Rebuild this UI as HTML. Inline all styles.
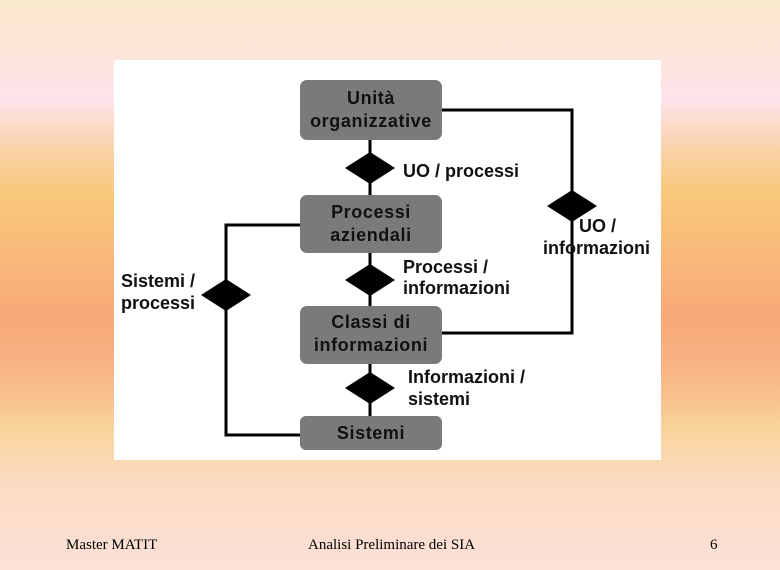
<!DOCTYPE html>
<html><head><meta charset="utf-8"><style>
body{margin:0;width:780px;height:570px;overflow:hidden;position:relative;
background:linear-gradient(to bottom,#fbe9cc 0px,#fce6dc 60px,#fde3ec 100px,#f9d2a6 150px,#f8c87a 195px,#f8b87a 260px,#f8a878 320px,#f8b888 380px,#f9d49c 430px,#fbdcc0 480px,#fde0d8 570px);
font-family:"Liberation Sans",sans-serif;}
.ft{position:absolute;top:537px;font-family:"Liberation Serif",serif;font-size:15px;color:#000}
</style></head><body>
<svg width="780" height="570" style="position:absolute;left:0;top:0" font-family="Liberation Sans, sans-serif" font-weight="bold" font-size="18">
<rect x="114" y="60" width="547" height="400" fill="#fff"/>
<g stroke="#000" stroke-width="3" fill="none">
<line x1="370" y1="140" x2="370" y2="416"/>
<polyline points="442,110 572,110 572,333 442,333"/>
<polyline points="300,225 226,225 226,435 300,435"/>
</g>
<g fill="#7a7a7a">
<rect x="300" y="80" width="142" height="60" rx="7"/>
<rect x="300" y="195" width="142" height="58" rx="7"/>
<rect x="300" y="306" width="142" height="58" rx="7"/>
<rect x="300" y="416" width="142" height="34" rx="6"/>
</g>
<g fill="#000">
<polygon points="345,168 370,152 395,168 370,184"/>
<polygon points="345,280 370,264 395,280 370,296"/>
<polygon points="345,388 370,372 395,388 370,404"/>
<polygon points="547,206 572,190 597,206 572,222"/>
<polygon points="201,295 226,279 251,295 226,311"/>
</g>
<g fill="#111" text-anchor="middle" letter-spacing="0.6">
<text x="371" y="104">Unità</text><text x="371" y="127">organizzative</text>
<text x="371" y="218">Processi</text><text x="371" y="241">aziendali</text>
<text x="371" y="328">Classi di</text><text x="371" y="351">informazioni</text>
<text x="371" y="439">Sistemi</text>
</g>
<g fill="#111">
<text x="403" y="177">UO / processi</text>
<text x="403" y="273">Processi /</text><text x="403" y="294">informazioni</text>
<text x="408" y="383">Informazioni /</text><text x="408" y="405">sistemi</text>
<text x="579" y="232">UO /</text><text x="543" y="254">informazioni</text>
<text x="121" y="287">Sistemi /</text><text x="121" y="309">processi</text>
</g>
</svg>
<div class="ft" style="left:66px">Master MATIT</div>
<div class="ft" style="left:308px">Analisi Preliminare dei SIA</div>
<div class="ft" style="left:710px">6</div>
</body></html>
